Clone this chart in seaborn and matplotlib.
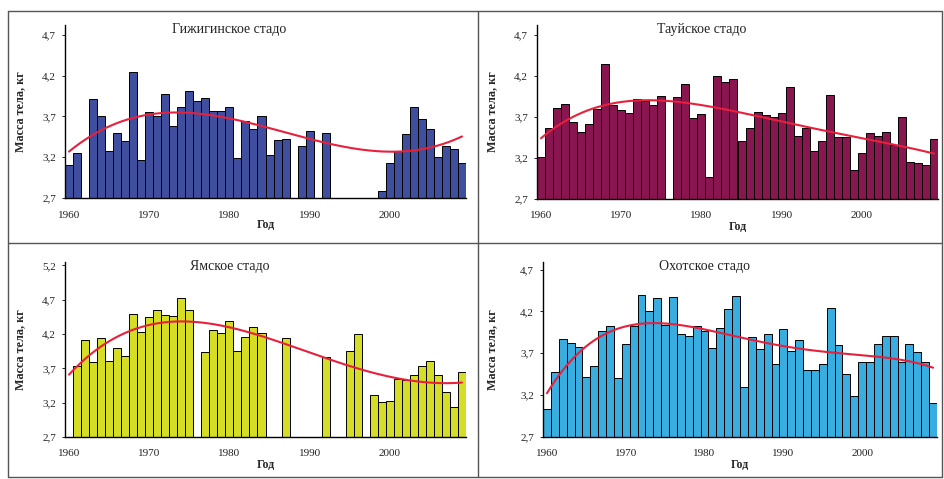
import numpy as np
import pandas as pd
import matplotlib
matplotlib.use("Agg")
import matplotlib.pyplot as plt
import seaborn as sns
from matplotlib.ticker import FuncFormatter, FixedLocator
from matplotlib.lines import Line2D

nan = np.nan
years = list(range(1960, 2010))

gizhiga = [3.11, 3.25, nan, 3.91, 3.71, 3.27, 3.50, 3.40, 4.25, 3.17,
           3.75, 3.71, 3.97, 3.58, 3.81, 4.01, 3.89, 3.93, 3.77, 3.77,
           3.81, 3.19, 3.64, 3.54, 3.70, 3.23, 3.41, 3.42, nan, 3.34,
           3.52, nan, 3.50, nan, nan, nan, nan, nan, nan, 2.79,
           3.13, 3.27, 3.48, 3.81, 3.67, 3.54, 3.20, 3.34, 3.30, 3.13]

tauy = [3.21, 3.57, 3.81, 3.86, 3.64, 3.52, 3.61, 3.80, 4.34, 3.85,
        3.79, 3.75, 3.92, 3.90, 3.84, 3.95, nan, 3.94, 4.10, 3.69,
        3.74, 2.97, 4.20, 4.12, 4.16, 3.41, 3.56, 3.76, 3.72, 3.70,
        3.75, 4.06, 3.47, 3.56, 3.29, 3.41, 3.97, 3.45, 3.46, 3.05,
        3.26, 3.51, 3.47, 3.52, 3.36, 3.70, 3.15, 3.14, 3.12, 3.43]

yamsk = [nan, 3.73, 4.11, 3.79, 4.14, 3.81, 3.99, 3.88, 4.49, 4.23,
         4.45, 4.55, 4.48, 4.46, 4.72, 4.55, nan, 3.94, 4.26, 4.21,
         4.39, 3.95, 4.16, 4.31, 4.22, nan, nan, 4.14, nan, nan,
         nan, nan, 3.87, nan, nan, 3.95, 4.20, nan, 3.31, 3.21,
         3.22, 3.55, 3.53, 3.60, 3.74, 3.81, 3.60, 3.35, 3.13, 3.65]

okhotsk = [3.03, 3.48, 3.87, 3.82, 3.77, 3.42, 3.55, 3.97, 4.03, 3.40,
           3.81, 4.03, 4.39, 4.21, 4.36, 4.04, 4.37, 3.93, 3.91, 4.02,
           3.97, 3.76, 4.00, 4.23, 4.38, 3.30, 3.90, 3.75, 3.93, 3.57,
           3.99, 3.73, 3.86, 3.50, 3.50, 3.57, 4.24, 3.80, 3.45, 3.19,
           3.60, 3.60, 3.81, 3.91, 3.91, 3.60, 3.81, 3.71, 3.60, 3.11]

titles = ["Гижигинское стадо", "Тауйское стадо", "Ямское стадо", "Охотское стадо"]
series = [gizhiga, tauy, yamsk, okhotsk]
trend_degree = [3, 4, 4, 4]
colors = ["#3f4e9f", "#8a1650", "#d5dd26", "#3aade0"]
yticks_list = [[2.7, 3.2, 3.7, 4.2, 4.7], [2.7, 3.2, 3.7, 4.2, 4.7],
               [2.7, 3.2, 3.7, 4.2, 4.7, 5.2], [2.7, 3.2, 3.7, 4.2, 4.7]]
ylims = [(2.7, 4.82), (2.7, 4.82), (2.7, 5.25), (2.7, 4.79)]
xlabels = [1960, 1970, 1980, 1990, 2000]

sns.set_theme(style="white")
plt.rcParams["font.family"] = ["Liberation Serif", "DejaVu Serif"]

W, H = 945, 479
fig = plt.figure(figsize=(W / 100, H / 100), dpi=100)
fig.patch.set_facecolor("white")

# axes boxes in pixels: left, right, top, bottom
boxes = [(65, 466, 25, 198), (537, 938, 25, 199), (65, 466, 262, 437), (543, 937, 262, 437)]
ylab_x = [20, 492, 20, 492]

def fmt(v, _):
    return f"{v:.1f}".replace(".", ",")

for k in range(4):
    l, r, t, b = boxes[k]
    ax = fig.add_axes([l / W, 1 - b / H, (r - l) / W, (b - t) / H])
    df = pd.DataFrame({"year": years, "mass": series[k]}).dropna()
    sns.barplot(data=df, x="year", y="mass", native_scale=True, width=1,
                color=colors[k], saturation=1, edgecolor="black", linewidth=0.7,
                errorbar=None, ax=ax)
    grid = np.linspace(years[0], years[-1], 300)
    p = np.polynomial.Polynomial.fit(df["year"], df["mass"], trend_degree[k])
    sns.lineplot(x=grid, y=p(grid), color="#e8203c", lw=1.5, ax=ax)
    ax.set_xlim(1959.5, 2009.5)
    ax.set_ylim(*ylims[k])
    ax.set_yticks(yticks_list[k])
    ax.yaxis.set_major_formatter(FuncFormatter(fmt))
    ax.set_xticks(xlabels)
    ax.set_xticklabels([str(x) for x in xlabels])
    ax.xaxis.set_minor_locator(FixedLocator(np.arange(1959.5, 2010, 1)))
    ax.tick_params(axis="x", which="major", length=0, pad=9, labelsize=8, colors="#222222")
    ax.tick_params(axis="x", which="minor", length=2.5, width=0.6, direction="out", color="black")
    ax.tick_params(axis="y", which="major", length=2.5, width=0.6, direction="out", pad=4,
                   labelsize=8, color="black", colors="#222222", left=True)
    for s in ("top", "right"):
        ax.spines[s].set_visible(False)
    for s in ("left", "bottom"):
        ax.spines[s].set_color("black")
        ax.spines[s].set_linewidth(1.0)
    ax.set_xlabel("Год", fontsize=8.5, fontweight="bold", labelpad=0)
    ax.set_ylabel("")
    fig.text(ylab_x[k] / W, 1 - ((t + b) / 2) / H, "Масса тела, кг", rotation=90,
             fontsize=8.7, fontweight="bold", ha="center", va="center")
    ax.text(0.41, 0.975, titles[k], transform=ax.transAxes, ha="center", va="center",
            fontsize=10, color="#222222")
    ax.set_facecolor("white")

# panel frame lines
frame_col = "#555555"
def hline(y, x0, x1):
    fig.add_artist(Line2D([x0 / W, x1 / W], [1 - y / H, 1 - y / H], color=frame_col, lw=1.0,
                          transform=fig.transFigure))
def vline(x, y0, y1):
    fig.add_artist(Line2D([x / W, x / W], [1 - y0 / H, 1 - y1 / H], color=frame_col, lw=1.0,
                          transform=fig.transFigure))

hline(11, 8, 942)
hline(243, 8, 942)
hline(477, 8, 942)
vline(8, 11, 477)
vline(478, 11, 477)
vline(942, 11, 477)

fig.savefig("out.png", dpi=100, facecolor="white")
